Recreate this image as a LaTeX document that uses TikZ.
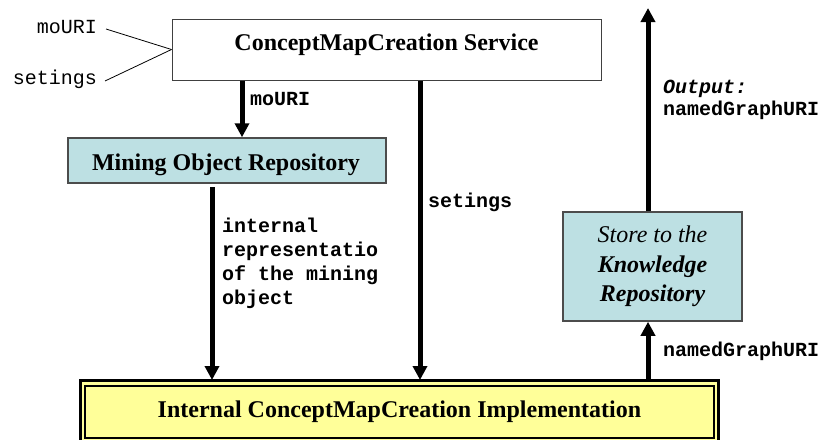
\documentclass[tikz,border=0pt]{standalone}
\usepackage{fontspec}
\setmainfont{Liberation Serif}
\setmonofont{Liberation Mono}
\usetikzlibrary{arrows.meta}
\definecolor{cyanbox}{RGB}{189,224,227}
\definecolor{yellowbox}{RGB}{255,255,153}
\tikzset{
  titlefont/.style={font=\fontsize{24}{29.5}\selectfont\bfseries},
  box/.style={draw, inner sep=0pt, align=center},
  arr/.style={line width=5pt, -{Triangle[length=14pt,width=14pt]}},
  lbl/.style={font=\fontsize{20}{24}\selectfont\ttfamily\bfseries, inner sep=0pt, anchor=base west},
  inlbl/.style={font=\fontsize{20}{24}\selectfont\ttfamily, inner sep=0pt, anchor=base east},
  thinline/.style={line width=0.8pt},
}
\begin{document}
\begin{tikzpicture}[x=1pt,y=-1pt]
\useasboundingbox (0,0) rectangle (821,439);
\begin{scope}
\clip (0,0) rectangle (821,439);
% bottom implementation box (outer frame)
\draw[line width=3pt, fill=yellowbox] (80.5,380.5) rectangle (718.5,470);
\node[box, line width=2pt, fill=yellowbox, minimum width=629pt, minimum height=52pt, titlefont] (impl) at (399.5,412) {Internal ConceptMapCreation Implementation};
\end{scope}

% service box
\node[box, line width=1pt, draw=black!75, minimum width=429pt, minimum height=61pt] (svc) at (386.5,49.5) {};
\node[titlefont, inner sep=0pt, anchor=base] (svct) at (386.5,50) {ConceptMapCreation Service};

% mining object repository
\node[box, line width=1.5pt, draw=black!70, fill=cyanbox, minimum width=318pt, minimum height=45pt] (mor) at (227,160.5) {};
\node[titlefont, inner sep=0pt, anchor=base] (mort) at (226,170) {Mining Object Repository};

% store box
\node[box, line width=1.5pt, draw=black!70, fill=cyanbox, minimum width=179pt, minimum height=109pt, font=\fontsize{24}{29.5}\selectfont\itshape] (store) at (652.5,266.5)
  {Store to the\\\textbf{Knowledge}\\\textbf{Repository}};

% input labels
\node[inlbl] (inmo) at (97,33) {moURI};
\node[inlbl] (inset) at (97,84) {setings};
\coordinate (inmoend) at (106,29);
\coordinate (insetend) at (105,81);
\draw[thinline] (inmoend) -- (svc.west);
\draw[thinline] (insetend) -- (svc.west);

% x positions
\coordinate (xa) at (242,0);
\coordinate (xb) at (212,0);
\coordinate (xc) at (420,0);
\coordinate (xd) at (648,0);
\coordinate (topend) at (648,8);
\coordinate (morgap) at (212,187);
\coordinate (impltop) at (0,380);

\draw[arr] (svc.south -| xa) -- (mor.north -| xa);
\draw[arr] (morgap) -- (impltop -| xb);
\draw[arr] (svc.south -| xc) -- (impltop -| xc);
\draw[arr] (impltop -| xd) -- (store.south -| xd);
\draw[arr] (store.north -| xd) -- (topend);

% arrow labels
\node[lbl] (lmo) at (250,105) {moURI};
\node[lbl] (lset) at (428,207) {setings};
\node[lbl] (lint) at (222,232) {\vtop{\baselineskip=24pt\hbox{internal}\hbox{representatio}\hbox{of the mining}\hbox{object}}};
\node[lbl] (lout) at (663,93) {\vtop{\baselineskip=22pt\hbox{\itshape Output:}\hbox{namedGraphURI}}};
\node[lbl] (lng) at (663,356) {namedGraphURI};
\end{tikzpicture}
\end{document}
